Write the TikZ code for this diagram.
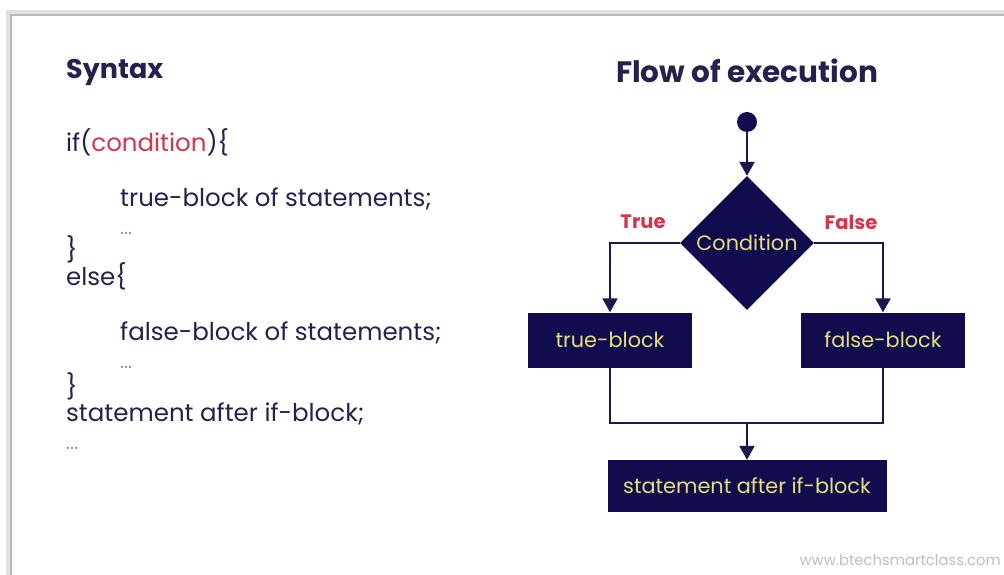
\documentclass[tikz,border=0pt]{standalone}
\usepackage{fontspec}
\setmainfont{Poppins}
\usetikzlibrary{shapes.geometric,arrows.meta,calc}
\definecolor{ink}{HTML}{25214F}
\definecolor{navy}{HTML}{100C4E}
\definecolor{wire}{HTML}{1B1750}
\definecolor{gold}{HTML}{E6DF7A}
\definecolor{alert}{HTML}{D8334A}
\begin{document}
\begin{tikzpicture}[x=1pt,y=-1pt,
  heading/.style={anchor=base west,text=ink,font=\fontsize{27}{31}\selectfont\bfseries,inner sep=0},
  codeline/.style={anchor=base west,text=ink,font=\fontsize{24.5}{28}\selectfont,inner sep=0},
  dots/.style={anchor=base west,text=ink!50,font=\fontsize{19}{22}\selectfont,inner sep=0},
  block/.style={rectangle,fill=navy,text=gold,font=\fontsize{20.8}{24}\selectfont,inner sep=0},
  decision/.style={diamond,fill=navy,text=gold,font=\fontsize{20.8}{24}\selectfont,inner sep=0,minimum width=134,minimum height=134},
  branch/.style={text=alert,font=\fontsize{19.5}{22}\selectfont\bfseries,inner sep=0},
  wireline/.style={draw=wire,line width=2.2},
  flow/.style={wireline,-{Triangle[width=15,length=14]}}]
\useasboundingbox (0,0) rectangle (1004,575);
\fill[white] (0,0) rectangle (1004,575);
% soft frame along the top and left edges
\draw[black!12,line width=6] (9,590) -- (9,13) -- (1015,13);
\draw[black!28,line width=2] (11,590) -- (11,15) -- (1015,15);

% syntax listing
\node[heading] (syn) at (66,79) {Syntax};
\node[codeline] (l1) at (66,152) {if(\textcolor{alert}{condition})\{};
\node[codeline] (l2) at (120,206) {true-block of statements;};
\node[dots] (l3) at (120,234) {...};
\node[codeline] (l4) at (66,258) {\}};
\node[codeline] (l5) at (66,285) {else\{};
\node[codeline] (l6) at (120,340) {false-block of statements;};
\node[dots] (l7) at (120,368) {...};
\node[codeline] (l8) at (66,395) {\}};
\node[codeline] (l9) at (66,421) {statement after if-block;};
\node[dots] (l10) at (66,449) {...};

% flow chart
\node[heading,anchor=base,font=\fontsize{29.5}{34}\selectfont\bfseries] (title) at (747,83) {Flow of execution};
\node[circle,fill=navy,minimum size=20,inner sep=0] (start) at (747,122) {};
\node[decision] (cond) at (747,243) {Condition};
\node[block,minimum width=164,minimum height=55] (tb) at (610,340) {true-block};
\node[block,minimum width=164,minimum height=55] (fb) at (883,340) {false-block};
\node[block,minimum width=279,minimum height=52] (after) at (747,486) {statement after if-block};
\node[branch] (yes) at (643,222) {True};
\node[branch] (no) at (851,222) {False};
\coordinate (join) at (747,423);

\draw[flow] (start) -- (cond.north);
\draw[flow] (cond.west) -| (tb.north);
\draw[flow] (cond.east) -| (fb.north);
\draw[wireline] (tb.south) |- (join) -| (fb.south);
\draw[flow] (join) -- (after.north);

\node[text=black!25,font=\fontsize{14.8}{17}\selectfont,anchor=base east,inner sep=0] (site) at (1001,565) {www.btechsmartclass.com};
\end{tikzpicture}
\end{document}
